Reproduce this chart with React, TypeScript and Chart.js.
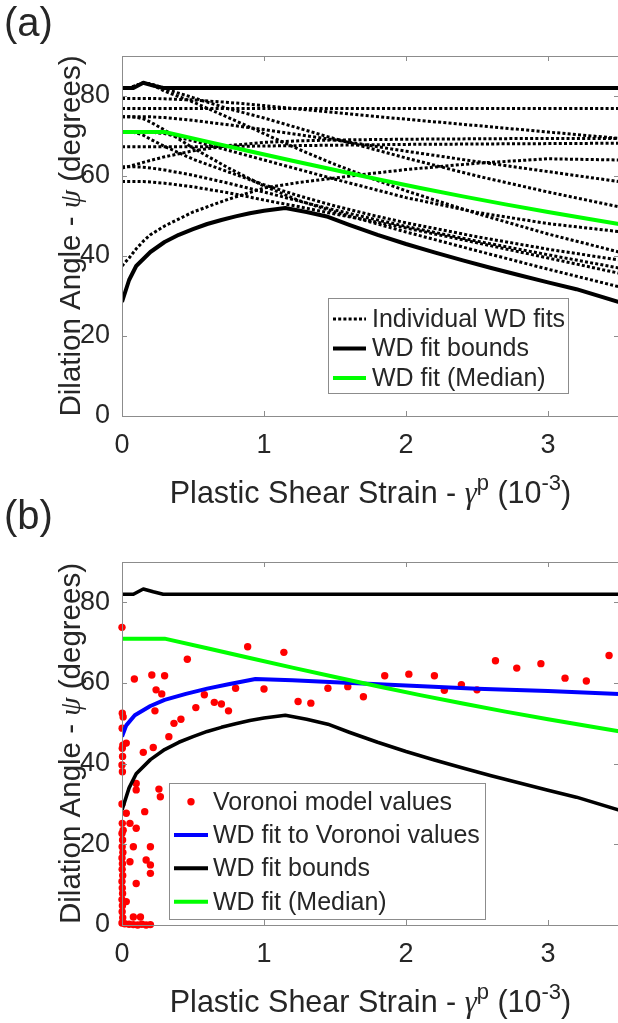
import { useEffect, useRef } from "react";
import { Chart, registerables } from "chart.js";

Chart.register(...registerables);

const SANS = "'Liberation Sans', Arial, Helvetica, sans-serif";
const SERIF = "'Liberation Serif', 'Times New Roman', serif";
const TEXT = "#262626";
const AXIS = "#8c8c8c";
const CANVAS_W = 640;
const PLOT_LEFT = 122;
const PLOT_RIGHT = 619;

// ---- axes ----
const xTicks = [0, 1, 2, 3];
const yTicks = [0, 20, 40, 60, 80];
const X_MIN = 0;
const X_MAX = 3.5;
const Y_MIN = 0;
const Y_MAX = 90;

// ---- panel (a): individual WD fits ----
const fitX = [0, 0.05, 0.1, 0.15, 0.2, 0.3, 0.5, 0.75, 1.0, 1.25, 1.5, 1.75, 2.0, 2.5, 3.0, 3.5];
const fit01 = [82, 82, 82.6, 83.3, 83, 82, 82, 82, 82, 82, 82, 82, 82, 82, 82, 82];
const fit02 = [76.9, 76.9, 76.9, 76.9, 76.9, 76.9, 76.9, 76.9, 76.9, 76.9, 76.9, 76.9, 76.9, 76.9, 76.9, 76.9];
const fit03 = [79.4, 79.4, 79.4, 79.4, 79.4, 79.3, 79.0, 78.4, 77.6, 76.7, 75.9, 75.0, 74.2, 72.6, 71.0, 69.4];
const fit04 = [82, 82, 82.6, 83.3, 83, 81.8, 79.6, 76.8, 74.5, 71.9, 69.3, 66.9, 64.5, 60.0, 56.0, 52.3];
const fit05 = [74.8, 74.8, 74.8, 74.8, 74.8, 74.6, 73.9, 72.8, 71.6, 70.3, 69.0, 67.6, 66.2, 63.6, 61.1, 58.6];
const fit06 = [67.3, 67.3, 67.3, 67.3, 67.3, 67.3, 67.3, 67.4, 67.5, 67.6, 67.7, 67.8, 67.9, 68.0, 68.1, 68.2];
const fit07 = [37.5, 39.5, 41.8, 43.7, 45.3, 47.5, 51.0, 54.2, 57.0, 58.4, 59.5, 60.6, 61.6, 63.2, 64.3, 64.0];
const fit08 = [62.0, 62.4, 62.9, 63.4, 63.9, 64.8, 66.3, 67.6, 68.4, 68.8, 69.0, 69.1, 69.2, 69.3, 69.4, 69.4];
const fit09 = [71, 71, 71, 71, 71, 70.6, 68.8, 66.4, 64.0, 61.6, 59.2, 56.9, 54.6, 50.9, 48.1, 46.1];
const fit10 = [82, 82, 82.6, 83.3, 83, 81.2, 78.5, 74.6, 70.6, 66.6, 62.9, 59.5, 56.3, 50.6, 45.5, 41.0];
const fit11 = [71, 71, 70.8, 70.2, 69.2, 67.4, 64.2, 61.0, 57.8, 55.0, 52.5, 50.3, 48.3, 44.8, 41.7, 39.0];
const fit12 = [62.3, 62.3, 62.3, 62.2, 62.0, 61.5, 60.2, 58.2, 56.0, 53.7, 51.5, 49.4, 47.4, 43.7, 40.3, 37.0];
const fit13 = [58.6, 58.6, 58.6, 58.6, 58.5, 58.2, 57.3, 55.8, 54.0, 52.3, 50.5, 48.8, 47.0, 43.3, 39.5, 35.7];
const fit14 = [74.8, 74.8, 74.7, 74.3, 73.5, 71.5, 67.0, 62.0, 57.5, 53.8, 51.0, 48.5, 46.0, 41.3, 36.7, 32.3];
const fitCurves = [fit01, fit02, fit03, fit04, fit05, fit06, fit07, fit08, fit09, fit10, fit11, fit12, fit13, fit14];

// ---- bounds and median (both panels) ----
const upperX = [0, 0.08, 0.15, 0.22, 0.29, 1.0, 2.0, 3.0, 3.5];
const upperBound = [82, 82, 83.3, 82.6, 82, 82, 82, 82, 82];
const lowerX = [0, 0.05, 0.1, 0.2, 0.3, 0.4, 0.5, 0.6, 0.7, 0.8, 0.9, 1.0, 1.15, 1.3, 1.45, 1.6, 1.8, 2.0, 2.2, 2.4, 2.6, 2.8, 3.0, 3.2, 3.5];
const lowerBound = [28.5, 34, 37.5, 41, 43.5, 45.3, 46.7, 48, 49, 49.9, 50.7, 51.3, 52, 51, 49.8, 47.8, 45.3, 43, 40.9, 38.9, 37, 35.2, 33.4, 31.7, 28.5];
const medianX = [0, 0.3, 0.6, 0.9, 1.2, 1.5, 1.8, 2.1, 2.4, 2.7, 3.0, 3.3, 3.5];
const median = [71, 71, 68.6, 66.2, 63.8, 61.5, 59.2, 57.0, 54.9, 52.9, 51.0, 49.2, 48];

// ---- panel (b): Voronoi values and fit ----
const voronoiFitX = [0, 0.03, 0.09, 0.2, 0.3, 0.45, 0.6, 0.75, 0.94, 1.2, 1.5, 2.0, 2.5, 3.0, 3.5];
const voronoiFit = [46.7, 49.5, 52, 54.3, 55.8, 57.3, 58.6, 59.7, 61, 60.7, 60.2, 59.4, 58.6, 58, 57.3];
const voronoiX = [
  0.000, 0.002, 0.008, 0.001, 0.006, 0.002, 0.004, 0.000, 0.003, 0.000, 0.002, 0.008, 0.000, 0.004,
  0.001, 0.006, 0.000, 0.003, 0.001, 0.005, 0.000, 0.002, 0.004, 0.000, 0.003, 0.001, 0.005, 0.000,
  0.03, 0.087, 0.03, 0.056, 0.10, 0.10, 0.10, 0.08, 0.056, 0.10, 0.03, 0.15, 0.22, 0.16, 0.20, 0.17,
  0.20, 0.20, 0.26, 0.27, 0.02, 0.05, 0.08, 0.11, 0.14, 0.17, 0.20, 0.08, 0.13,
  0.21, 0.30, 0.24, 0.28, 0.46, 0.885, 1.14, 0.80, 1.00, 0.58, 0.52, 0.65, 0.70, 0.75, 0.415, 0.366,
  0.33, 0.232, 1.24, 1.33, 1.45, 1.59, 1.70, 1.85, 2.02,
  2.20, 2.27, 2.39, 2.50, 2.63, 2.78, 2.95, 3.12, 3.27, 3.43,
];
const voronoiY = [
  73.8, 52.5, 51.6, 48.8, 44.6, 43.8, 41.8, 39.7, 38.0, 30.0, 25.2, 23.5, 22.7, 21.1,
  19.4, 18.0, 16.6, 15.2, 13.8, 12.3, 10.8, 9.2, 7.8, 6.3, 4.8, 3.3, 1.8, 0.5,
  45.1, 61.0, 27.7, 25.2, 35.1, 33.5, 24.0, 19.4, 15.7, 10.3, 5.8, 42.8, 44.0, 28.1, 19.4, 16.1,
  14.9, 12.8, 33.7, 31.8, 0.3, 0.2, 0.1, 0.0, 0.2, 0.0, 0.1, 2.0, 2.0,
  62.0, 61.8, 58.3, 57.3, 65.9, 69.0, 67.6, 58.7, 58.5, 57.1, 53.9, 55.2, 54.8, 53.1, 51.0, 50.0,
  46.7, 53.1, 55.4, 55.0, 58.7, 59.1, 56.6, 61.8, 62.2,
  61.8, 58.2, 59.6, 58.3, 65.5, 63.7, 64.8, 61.2, 60.5, 66.8,
];

// ---- text ----
const LBL_FITS = "Individual WD fits";
const LBL_BOUNDS = "WD fit bounds";
const LBL_MEDIAN = "WD fit (Median)";
const LBL_VORONOI = "Voronoi model values";
const LBL_VFIT = "WD fit to Voronoi values";

type Seg = { t: string; font: string; dy?: number };
const X_TITLE_SIZE = 30.5;
const Y_TITLE_SIZE = 29.5;
const SUP_SIZE = 22;
const xTitleSegs: Seg[] = [
  { t: "Plastic Shear Strain - ", font: `${X_TITLE_SIZE}px ${SANS}` },
  { t: "\u03B3", font: `italic ${X_TITLE_SIZE}px ${SERIF}` },
  { t: "p", font: `${SUP_SIZE}px ${SANS}`, dy: -13 },
  { t: " (10", font: `${X_TITLE_SIZE}px ${SANS}` },
  { t: "-3", font: `${SUP_SIZE}px ${SANS}`, dy: -13 },
  { t: ")", font: `${X_TITLE_SIZE}px ${SANS}` },
];
const yTitleSegs: Seg[] = [
  { t: "Dilation Angle - ", font: `${Y_TITLE_SIZE}px ${SANS}` },
  { t: "\u03C8", font: `italic ${Y_TITLE_SIZE}px ${SERIF}` },
  { t: " (degrees)", font: `${Y_TITLE_SIZE}px ${SANS}` },
];

const pts = (xs: number[], ys: number[]) => xs.map((x, i) => ({ x, y: ys[i] }));

function drawSegs(ctx: CanvasRenderingContext2D, segs: Seg[], cx: number, baseline: number) {
  let total = 0;
  const widths = segs.map((s) => {
    ctx.font = s.font;
    const w = ctx.measureText(s.t).width;
    total += w;
    return w;
  });
  let x = cx - total / 2;
  ctx.textAlign = "left";
  ctx.textBaseline = "alphabetic";
  segs.forEach((s, i) => {
    ctx.font = s.font;
    ctx.fillText(s.t, x, baseline + (s.dy || 0));
    x += widths[i];
  });
}

const decorPlugin = {
  id: "decor",
  afterDraw(chart: any, _args: any, o: any) {
    const ctx: CanvasRenderingContext2D = chart.ctx;
    const { left, right, top, bottom } = chart.chartArea;
    const xs = chart.scales.x;
    const ys = chart.scales.y;
    ctx.save();
    // box
    ctx.strokeStyle = AXIS;
    ctx.lineWidth = 1;
    ctx.setLineDash([]);
    ctx.strokeRect(Math.round(left) + 0.5, Math.round(top) + 0.5, right - left, bottom - top);
    // inward ticks
    ctx.beginPath();
    xTicks.forEach((v) => {
      const px = Math.round(xs.getPixelForValue(v)) + 0.5;
      ctx.moveTo(px, bottom);
      ctx.lineTo(px, bottom - 5);
      ctx.moveTo(px, top);
      ctx.lineTo(px, top + 5);
    });
    yTicks.forEach((v) => {
      const py = Math.round(ys.getPixelForValue(v)) + 0.5;
      ctx.moveTo(left, py);
      ctx.lineTo(left + 5, py);
      ctx.moveTo(right, py);
      ctx.lineTo(right - 5, py);
    });
    ctx.stroke();

    // legend
    const lg = o.legend;
    ctx.fillStyle = "#ffffff";
    ctx.fillRect(lg.x, lg.y, lg.w, lg.h);
    ctx.strokeStyle = AXIS;
    ctx.lineWidth = 1;
    ctx.strokeRect(lg.x + 0.5, lg.y + 0.5, lg.w, lg.h);
    lg.items.forEach((it: any, i: number) => {
      const cy = lg.rows[i];
      if (it.marker) {
        ctx.beginPath();
        ctx.fillStyle = it.color;
        ctx.arc((lg.s0 + lg.s1) / 2, cy, it.radius, 0, Math.PI * 2);
        ctx.fill();
      } else {
        ctx.beginPath();
        ctx.setLineDash(it.dash || []);
        ctx.lineWidth = it.width;
        ctx.strokeStyle = it.color;
        ctx.moveTo(lg.s0, cy);
        ctx.lineTo(lg.s1, cy);
        ctx.stroke();
        ctx.setLineDash([]);
      }
      ctx.fillStyle = TEXT;
      ctx.font = `${lg.fontSize}px ${SANS}`;
      ctx.textAlign = "left";
      ctx.textBaseline = "middle";
      ctx.fillText(it.label, lg.tx, cy + 1);
    });

    // titles
    ctx.fillStyle = TEXT;
    drawSegs(ctx, xTitleSegs, (left + right) / 2, o.xTitleBaseline);
    ctx.save();
    ctx.translate(o.yTitleX, (top + bottom) / 2);
    ctx.rotate(-Math.PI / 2);
    drawSegs(ctx, yTitleSegs, 0, 0);
    ctx.restore();

    // panel label
    ctx.font = `40px ${SANS}`;
    ctx.textAlign = "left";
    ctx.textBaseline = "middle";
    ctx.fillText(o.panelLabel, 4, o.panelLabelY);
    ctx.restore();
  },
};

function makeConfig(datasets: any[], decor: any, canvasH: number, plotTop: number, plotBottom: number) {
  const tickFont = { family: SANS, size: 27 };
  return {
    type: "scatter",
    data: { datasets },
    options: {
      responsive: false,
      animation: false,
      devicePixelRatio: 1,
      events: [],
      layout: { padding: { top: plotTop, right: CANVAS_W - PLOT_RIGHT, left: 0, bottom: 0 } },
      plugins: { legend: { display: false }, tooltip: { enabled: false }, decor },
      scales: {
        x: {
          type: "linear",
          min: X_MIN,
          max: X_MAX,
          afterBuildTicks: (s: any) => {
            s.ticks = xTicks.map((v) => ({ value: v }));
          },
          afterFit: (s: any) => {
            s.height = canvasH - plotBottom;
          },
          grid: { display: false, drawTicks: false },
          border: { display: false },
          ticks: { font: tickFont, color: TEXT, padding: 13, maxRotation: 0, autoSkip: false },
        },
        y: {
          type: "linear",
          min: Y_MIN,
          max: Y_MAX,
          afterBuildTicks: (s: any) => {
            s.ticks = yTicks.map((v) => ({ value: v }));
          },
          afterFit: (s: any) => {
            s.width = PLOT_LEFT;
          },
          grid: { display: false, drawTicks: false },
          border: { display: false },
          ticks: { font: tickFont, color: TEXT, padding: 12, autoSkip: false },
        },
      },
    },
    plugins: [decorPlugin],
  };
}

const lineDs = (label: string, xs: number[], ys: number[], color: string, width: number, order: number, dash: number[] = []) => ({
  label,
  data: pts(xs, ys),
  showLine: true,
  borderColor: color,
  backgroundColor: color,
  borderWidth: width,
  borderDash: dash,
  borderCapStyle: "butt",
  borderJoinStyle: "round",
  pointRadius: 0,
  tension: 0,
  order,
});

const FIT_DASH = [3, 2.2];
const FIT_WIDTH = 3;

export default function App() {
  const refA = useRef<HTMLCanvasElement>(null);
  const refB = useRef<HTMLCanvasElement>(null);

  useEffect(() => {
    const dsA: any[] = [
      lineDs(LBL_MEDIAN, medianX, median, "#00ff00", 4, 0),
      lineDs(LBL_BOUNDS, upperX, upperBound, "#000000", 4, 1),
      lineDs(LBL_BOUNDS, lowerX, lowerBound, "#000000", 4, 1),
      ...fitCurves.map((c) => lineDs(LBL_FITS, fitX, c, "#000000", FIT_WIDTH, 2, FIT_DASH)),
    ];
    const decorA = {
      panelLabel: "(a)",
      panelLabelY: 25,
      xTitleBaseline: 503,
      yTitleX: 80,
      legend: {
        x: 328, y: 298, w: 240, h: 95, s0: 333, s1: 366, tx: 372, fontSize: 25,
        rows: [319, 348.5, 378],
        items: [
          { label: LBL_FITS, color: "#000", width: FIT_WIDTH, dash: FIT_DASH },
          { label: LBL_BOUNDS, color: "#000", width: 4 },
          { label: LBL_MEDIAN, color: "#00ff00", width: 4 },
        ],
      },
    };
    const HA = 520;
    const chartA = new Chart(refA.current as HTMLCanvasElement, makeConfig(dsA, decorA, HA, 56, 416) as any);

    const dsB: any[] = [
      lineDs(LBL_MEDIAN, medianX, median, "#00ff00", 4, 0),
      lineDs(LBL_BOUNDS, upperX, upperBound, "#000000", 3.6, 1),
      lineDs(LBL_BOUNDS, lowerX, lowerBound, "#000000", 3.6, 1),
      lineDs(LBL_VFIT, voronoiFitX, voronoiFit, "#0000ff", 4, 2),
      {
        label: LBL_VORONOI,
        data: pts(voronoiX, voronoiY),
        showLine: false,
        pointRadius: 3.7,
        pointBorderWidth: 0,
        pointBackgroundColor: "#ff0000",
        pointBorderColor: "#ff0000",
        clip: false,
        order: 3,
      },
    ];
    const decorB = {
      panelLabel: "(b)",
      panelLabelY: 28,
      xTitleBaseline: 521.5,
      yTitleX: 80,
      legend: {
        x: 169, y: 293, w: 316, h: 136, s0: 174, s1: 208, tx: 213, fontSize: 25,
        rows: [311.7, 345, 378.3, 411.7],
        items: [
          { label: LBL_VORONOI, color: "#ff0000", marker: true, radius: 3.7 },
          { label: LBL_VFIT, color: "#0000ff", width: 4 },
          { label: LBL_BOUNDS, color: "#000", width: 4 },
          { label: LBL_MEDIAN, color: "#00ff00", width: 4 },
        ],
      },
    };
    const HB = 533;
    const chartB = new Chart(refB.current as HTMLCanvasElement, makeConfig(dsB, decorB, HB, 72, 435) as any);

    return () => {
      chartA.destroy();
      chartB.destroy();
    };
  }, []);

  return (
    <div style={{ position: "absolute", left: 0, top: 0, width: 618, height: 1023, overflow: "hidden", background: "#fff" }}>
      <canvas ref={refA} width={CANVAS_W} height={520} style={{ position: "absolute", left: 0, top: 0, width: CANVAS_W, height: 520 }} />
      <canvas ref={refB} width={CANVAS_W} height={533} style={{ position: "absolute", left: 0, top: 490, width: CANVAS_W, height: 533 }} />
    </div>
  );
}
